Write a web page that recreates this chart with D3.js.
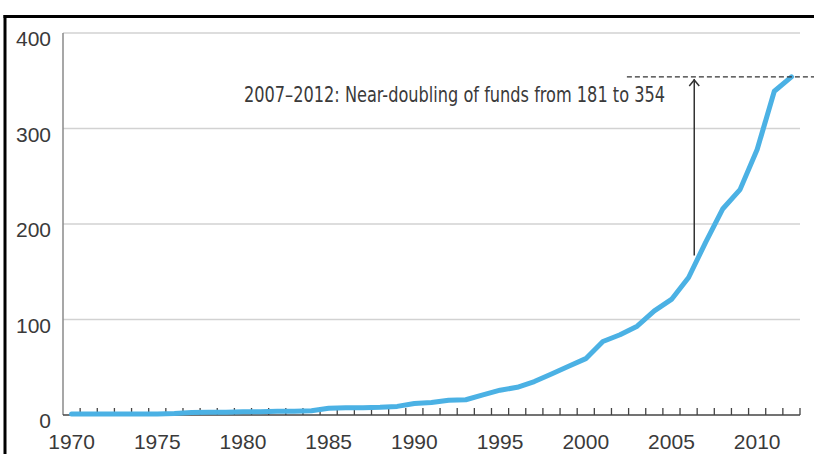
<!DOCTYPE html>
<html>
<head>
<meta charset="utf-8">
<script src="https://cdn.jsdelivr.net/npm/d3@7"></script>
<style>
  html, body { margin: 0; padding: 0; background: #fff; }
  svg { display: block; }
</style>
</head>
<body>
<svg id="chart" width="814" height="454"></svg>
<script>
const years = d3.range(1970, 2013);
const funds = [1, 1, 1, 1, 1, 1, 1.5, 2.5, 3, 3,
               3.5, 3.5, 4, 4, 4.5, 7, 7.5, 7.5, 8, 9,
               12, 13, 15.5, 16, 21, 26, 29, 35, 43, 51,
               59, 77, 84, 93, 109, 121, 144, 181, 216, 236,
               278, 339, 354];
const yTicks = [0, 100, 200, 300, 400];
const xLabels = [1970, 1975, 1980, 1985, 1990, 1995, 2000, 2005, 2010];
const annText = "2007\u20132012: Near-doubling of funds from 181 to 354";
const annFrom = 181, annTo = 354;
const arrowYear = 2006.33, arrowBottom = 167;
const dashStartYear = 2002.4;

const svg = d3.select("#chart");
const mLeft = 63, mRight = 800, mTop = 33, mBottom = 415;

const x = d3.scaleBand().domain(years).range([mLeft, mRight]).padding(0);
const xLin = d3.scaleLinear().domain([1969.5, 2012.5]).range([mLeft, mRight]);
const y = d3.scaleLinear().domain([0, 400]).range([mBottom, mTop]);

// frame
svg.append("line").attr("x1", 5).attr("x2", 5).attr("y1", 15).attr("y2", 454)
  .attr("stroke", "#000").attr("stroke-width", 3);
svg.append("line").attr("x1", 3.5).attr("x2", 814).attr("y1", 16.5).attr("y2", 16.5)
  .attr("stroke", "#000").attr("stroke-width", 3);

// gridlines
svg.append("g").selectAll("line").data(yTicks.filter(d => d > 0)).join("line")
  .attr("x1", mLeft).attr("x2", mRight)
  .attr("y1", d => y(d)).attr("y2", d => y(d))
  .attr("stroke", "#d2d2d2").attr("stroke-width", 1.5);

// y axis line
svg.append("line").attr("x1", mLeft).attr("x2", mLeft).attr("y1", y(400)).attr("y2", mBottom)
  .attr("stroke", "#8a8a8a").attr("stroke-width", 1.5);

// y labels
svg.append("g").selectAll("text").data(yTicks).join("text")
  .attr("x", 51).attr("y", d => y(d) + 6).attr("dy", "0.35em")
  .attr("text-anchor", "end")
  .attr("font-family", "Liberation Sans, Arial, sans-serif").attr("font-size", 21)
  .attr("fill", "#3a3a3a").text(d => d);

// x axis
svg.append("line").attr("x1", mLeft).attr("x2", mRight).attr("y1", mBottom).attr("y2", mBottom)
  .attr("stroke", "#444").attr("stroke-width", 1.5);
const bounds = years.map(d => x(d) + x.bandwidth());
svg.append("g").selectAll("line").data(bounds).join("line")
  .attr("x1", d => d).attr("x2", d => d).attr("y1", mBottom).attr("y2", mBottom - 7)
  .attr("stroke", "#444").attr("stroke-width", 1.3);
svg.append("g").selectAll("text").data(xLabels).join("text")
  .attr("x", d => x(d) + x.bandwidth() / 2).attr("y", 449)
  .attr("text-anchor", "middle")
  .attr("font-family", "Liberation Sans, Arial, sans-serif").attr("font-size", 21)
  .attr("fill", "#3a3a3a").text(d => d);

// line
const line = d3.line()
  .x((d, i) => x(years[i]) + x.bandwidth() / 2)
  .y(d => y(d));
svg.append("path").datum(funds).attr("d", line)
  .attr("fill", "none").attr("stroke", "#4bb1e4").attr("stroke-width", 5)
  .attr("stroke-linejoin", "round").attr("stroke-linecap", "round");

// annotation: dashed level line
svg.append("line").attr("x1", xLin(dashStartYear)).attr("x2", 814)
  .attr("y1", y(annTo)).attr("y2", y(annTo))
  .attr("stroke", "#333").attr("stroke-width", 1.3).attr("stroke-dasharray", "5,3");

// arrow
const ax = xLin(arrowYear);
svg.append("line").attr("x1", ax).attr("x2", ax).attr("y1", y(arrowBottom)).attr("y2", y(annTo) + 2)
  .attr("stroke", "#333").attr("stroke-width", 1.5);
svg.append("path")
  .attr("d", `M${ax - 5},${y(annTo) + 9} L${ax},${y(annTo) + 3} L${ax + 5},${y(annTo) + 9}`)
  .attr("fill", "none").attr("stroke", "#333").attr("stroke-width", 1.5);

// annotation text
svg.append("text").attr("x", 244).attr("y", 102)
  .attr("font-family", "Liberation Sans Narrow, DejaVu Sans Condensed, Liberation Sans, sans-serif")
  .attr("font-size", 21).attr("fill", "#3a3a3a")
  .attr("textLength", 421).attr("lengthAdjust", "spacingAndGlyphs")
  .text(annText);
</script>
</body>
</html>
